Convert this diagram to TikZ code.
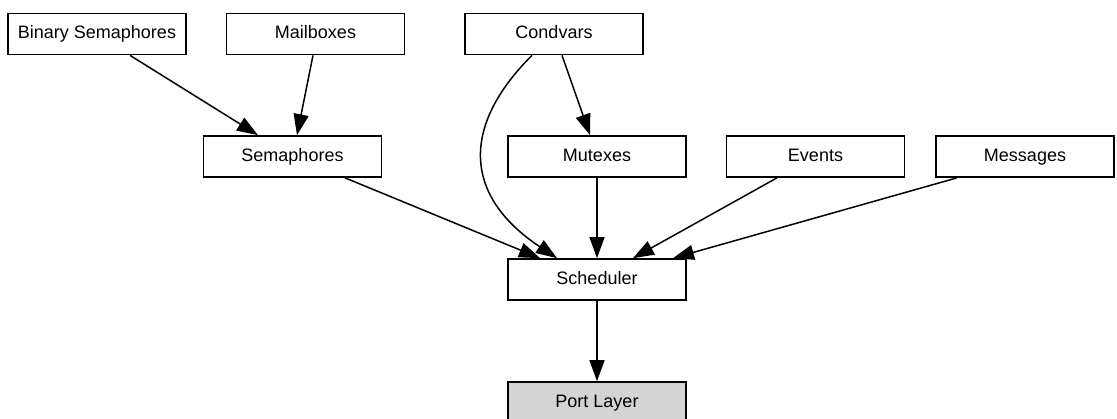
\documentclass[tikz,border=0pt]{standalone}
\usepackage{fontspec}
\setmainfont{Liberation Sans}
\usetikzlibrary{arrows.meta}

\tikzset{
  modbox/.style={draw=black, fill=white, line width=1.7pt, rectangle,
    minimum width=178pt, minimum height=41pt, inner sep=0pt,
    text height=13pt, text depth=3.5pt,
    font=\fontsize{18}{21}\selectfont},
  portbox/.style={modbox, fill=black!17},
  edge/.style={draw=black, line width=1.5pt,
    -{Triangle[length=21pt,width=15pt]}},
}

\begin{document}
\begin{tikzpicture}[x=1pt, y=-1pt]
  \clip (0,0) rectangle (1117,418);
  \fill[white] (0,0) rectangle (1117,418);

  % top row
  \node[modbox] (binsem)  at (97,34)    {Binary Semaphores};
  \node[modbox] (mailbox) at (315.5,34) {Mailboxes};
  \node[modbox] (condvar) at (554,34)   {Condvars};

  % middle row
  \node[modbox] (sem)    at (292.5,156.5) {Semaphores};
  \node[modbox] (mutex)  at (597,156.5)   {Mutexes};
  \node[modbox] (events) at (815.5,156.5) {Events};
  \node[modbox] (msgs)   at (1025,156.5)  {Messages};

  % core
  \node[modbox]  (sched) at (597,279.5) {Scheduler};
  \node[portbox] (port)  at (597,402.5) {Port Layer};

  % dependencies
  \draw[edge] ([xshift=33pt]binsem.south) -- ([xshift=-34.5pt]sem.north);
  \draw[edge] ([xshift=-2.5pt]mailbox.south) -- ([xshift=4.5pt]sem.north);
  \draw[edge] ([xshift=8pt]condvar.south) -- ([xshift=-7pt]mutex.north);
  \draw[edge] ([xshift=-22pt]condvar.south)
      .. controls (462,125) and (462,195) .. ([xshift=-40pt]sched.north);
  \draw[edge] ([xshift=52.5pt]sem.south) -- ([xshift=-57pt]sched.north);
  \draw[edge] (mutex.south) -- (sched.north);
  \draw[edge] ([xshift=-38.5pt]events.south) -- ([xshift=36pt]sched.north);
  \draw[edge] ([xshift=-68pt]msgs.south) -- ([xshift=76pt]sched.north);
  \draw[edge] (sched.south) -- (port.north);
\end{tikzpicture}
\end{document}
